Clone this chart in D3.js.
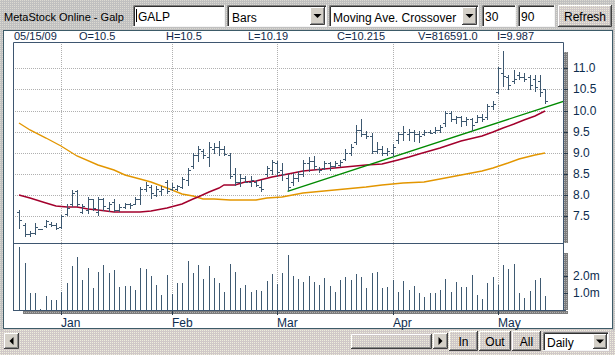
<!DOCTYPE html>
<html>
<head>
<meta charset="utf-8">
<script src="https://cdn.jsdelivr.net/npm/d3@7"></script>
<style>
  body { margin: 0; background: #fff; }
  svg { display: block; }
  text { font-family: "Liberation Sans", Arial, sans-serif; }
</style>
</head>
<body>
<svg id="chart" width="615" height="355"></svg>
<script>
// ---- data (GALP, daily, 18 Dec 2008 - 15 May 2009) ----
var infoDate = "05/15/09";
var infoFields = ["O=10.5", "H=10.5", "L=10.19", "C=10.215", "V=816591.0", "I=9.987"];

var monthLabels = ["Jan", "Feb", "Mar", "Apr", "May"];
var monthStart = [8, 29, 49, 71, 91];   // bar index of first trading day

var priceTicks = [7.5, 8.0, 8.5, 9.0, 9.5, 10.0, 10.5, 11.0];
var volumeTicks = [1, 2];               // millions

var opens = [7.60, 7.30, 7.08, 7.10, 7.20, 7.28, 7.32, 7.30, 7.25, 7.55,
  7.80, 8.10, 7.60, 7.65, 7.90, 7.60, 7.90, 7.70, 7.85, 7.65,
  7.72, 7.78, 7.80, 7.90, 8.15, 8.20, 8.00, 8.10, 8.30, 8.15,
  8.15, 8.20, 8.35, 8.70, 8.95, 9.05, 8.90, 9.10, 9.15, 9.10,
  8.95, 8.50, 8.30, 8.40, 8.30, 8.30, 8.20, 8.50, 8.60, 8.75,
  8.60, 8.40, 8.30, 8.40, 8.50, 8.75, 8.80, 8.62, 8.65, 8.75,
  8.70, 8.72, 8.85, 9.00, 9.25, 9.55, 9.45, 9.40, 9.05, 9.10,
  9.00, 9.00, 9.30, 9.45, 9.45, 9.50, 9.45, 9.45, 9.50, 9.50,
  9.55, 9.70, 9.95, 9.80, 9.85, 9.75, 9.80, 9.72, 9.85, 9.85,
  10.10, 10.45, 10.90, 10.80, 10.70, 10.85, 10.80, 10.80, 10.75, 10.70,
  10.50];
var highs = [7.64, 7.34, 7.15, 7.33, 7.21, 7.41, 7.36, 7.34, 7.52, 7.78,
  8.12, 8.13, 7.79, 7.95, 7.90, 7.96, 7.93, 7.83, 7.90, 7.78,
  7.82, 7.82, 7.96, 8.19, 8.30, 8.25, 8.21, 8.21, 8.37, 8.29,
  8.25, 8.42, 8.64, 9.00, 9.16, 9.09, 9.25, 9.23, 9.27, 9.16,
  9.00, 8.64, 8.50, 8.45, 8.45, 8.35, 8.35, 8.70, 8.83, 8.80,
  8.76, 8.49, 8.53, 8.56, 8.84, 8.90, 8.92, 8.67, 8.80, 8.79,
  8.80, 8.84, 9.08, 9.22, 9.65, 9.80, 9.51, 9.47, 9.26, 9.16,
  9.12, 9.20, 9.49, 9.63, 9.57, 9.53, 9.51, 9.53, 9.55, 9.61,
  9.67, 10.00, 9.98, 9.88, 9.87, 9.85, 9.83, 9.90, 9.93, 10.16,
  10.22, 11.03, 11.40, 10.83, 10.97, 10.91, 10.89, 10.85, 10.85, 10.83,
  10.50];
var lows = [7.22, 7.03, 7.04, 7.07, 7.19, 7.24, 7.26, 7.19, 7.22, 7.52,
  7.74, 7.74, 7.58, 7.58, 7.66, 7.54, 7.66, 7.62, 7.62, 7.62,
  7.70, 7.70, 7.78, 7.80, 8.09, 7.93, 7.97, 8.01, 8.05, 8.13,
  8.13, 8.17, 8.25, 8.64, 8.80, 8.88, 8.70, 9.00, 8.96, 8.94,
  8.41, 8.25, 8.21, 8.30, 8.21, 8.21, 8.09, 8.45, 8.49, 8.46,
  8.37, 8.13, 8.25, 8.33, 8.45, 8.56, 8.62, 8.54, 8.62, 8.60,
  8.67, 8.70, 8.84, 8.94, 9.20, 9.39, 9.35, 9.00, 9.00, 8.96,
  8.96, 8.92, 9.23, 9.30, 9.31, 9.27, 9.25, 9.43, 9.46, 9.46,
  9.49, 9.64, 9.75, 9.71, 9.64, 9.67, 9.55, 9.72, 9.75, 9.80,
  10.04, 10.42, 10.57, 10.50, 10.65, 10.75, 10.69, 10.50, 10.46, 10.34,
  10.19];
var closes = [7.42, 7.09, 7.10, 7.24, 7.20, 7.38, 7.30, 7.22, 7.50, 7.70,
  8.05, 7.80, 7.75, 7.90, 7.70, 7.90, 7.75, 7.80, 7.65, 7.72,
  7.78, 7.76, 7.92, 8.15, 8.25, 8.05, 8.15, 8.15, 8.10, 8.20,
  8.22, 8.38, 8.60, 8.95, 9.10, 8.95, 9.15, 9.15, 9.10, 8.98,
  8.45, 8.30, 8.40, 8.32, 8.35, 8.25, 8.15, 8.65, 8.78, 8.55,
  8.50, 8.20, 8.41, 8.50, 8.75, 8.80, 8.70, 8.60, 8.75, 8.70,
  8.75, 8.78, 9.00, 9.15, 9.55, 9.45, 9.40, 9.05, 9.10, 9.00,
  9.05, 9.15, 9.45, 9.50, 9.50, 9.45, 9.40, 9.50, 9.48, 9.55,
  9.62, 9.95, 9.80, 9.85, 9.75, 9.80, 9.65, 9.85, 9.80, 10.10,
  10.15, 11.00, 10.81, 10.60, 10.75, 10.80, 10.75, 10.60, 10.55, 10.45,
  10.215];
var volumes = [3.73, 2.78, 1.02, 1.02, 0.08, 0.82, 0.59, 0.59, 1.06, 1.61,
  2.59, 3.14, 1.76, 2.47, 1.31, 2.24, 2.67, 2.20, 2.35, 1.37,
  1.41, 1.39, 1.20, 2.47, 2.41, 2.00, 1.49, 0.88, 2.08, 0.96,
  1.61, 1.61, 2.88, 2.20, 2.65, 1.84, 2.59, 1.90, 1.61, 1.08,
  2.73, 2.24, 1.31, 1.49, 1.08, 1.18, 1.14, 1.71, 2.14, 1.53,
  2.20, 3.25, 2.02, 1.84, 1.67, 2.02, 1.67, 1.49, 1.90, 1.43,
  1.08, 1.78, 1.96, 1.78, 2.14, 1.96, 1.31, 2.20, 2.25, 1.31,
  1.37, 1.75, 1.08, 1.73, 1.18, 1.39, 1.02, 0.78, 1.02, 1.02,
  1.20, 1.84, 1.08, 1.67, 1.37, 1.37, 2.08, 0.90, 0.67, 1.57,
  1.96, 1.49, 2.67, 2.43, 2.73, 1.02, 0.71, 1.14, 1.78, 1.90,
  0.82];

// moving averages, [bar index, value]
var ma30 = [[0, 8.00], [2, 7.93], [5, 7.82], [7, 7.75], [9, 7.71], [11, 7.73], [13, 7.68],
  [15, 7.64], [18, 7.60], [23, 7.60], [25, 7.62], [28, 7.70], [31, 7.79], [33, 7.90],
  [34, 7.96], [36, 8.07], [38, 8.17], [39, 8.23], [41, 8.24], [43, 8.30], [45, 8.33],
  [48, 8.43], [51, 8.50], [54, 8.57], [58, 8.62], [62, 8.67], [66, 8.72], [69, 8.74],
  [72, 8.83], [74, 8.90], [76, 8.98], [80, 9.12], [84, 9.28], [88, 9.40], [90, 9.50],
  [92, 9.60], [94, 9.68], [96, 9.78], [98, 9.88], [100, 9.99]];
var ma90 = [[0, 9.70], [2, 9.53], [5, 9.35], [8, 9.16], [11, 8.92], [15, 8.72], [18, 8.60],
  [20, 8.47], [23, 8.38], [25, 8.31], [28, 8.16], [31, 8.03], [33, 7.99], [35, 7.91],
  [37, 7.90], [40, 7.89], [45, 7.89], [47, 7.93], [50, 7.96], [54, 8.05], [58, 8.11],
  [62, 8.15], [66, 8.19], [69, 8.23], [73, 8.29], [77, 8.32], [80, 8.38], [84, 8.47],
  [88, 8.56], [90, 8.64], [93, 8.76], [95, 8.86], [98, 8.94], [100, 9.00]];
// trend line through two points, extended to the right edge
var trendPoints = [[51, 8.09], [100, 10.08]];

// ---- drawing ----
var svg = d3.select("svg#chart");
var W = 615, H = 355;
var plot = {left: 13, right: 563, top: 42, mid: 243, bottom: 310};

var x = d3.scaleLinear().domain([0, closes.length - 1]).range([19.3, 545.3]).interpolate(d3.interpolateRound);
var y = d3.scaleLinear().domain([7.5, 11]).range([216.3, 68.3]).interpolate(d3.interpolateRound);
var yVol = d3.scaleLinear().domain([0, 2]).range([310, 276]).interpolate(d3.interpolateRound);

var defs = svg.append("defs");
function dots(id, base, dot) {
  var p = defs.append("pattern").attr("id", id).attr("width", 2).attr("height", 2)
      .attr("patternUnits", "userSpaceOnUse");
  p.append("rect").attr("width", 2).attr("height", 2).attr("fill", base);
  p.append("rect").attr("width", 1).attr("height", 1).attr("fill", dot);
}
dots("barTop", "#c0c0c0", "#dcdad2");
dots("barBot", "#d0c8c8", "#eeeedc");
dots("btn", "#cfc8c8", "#ecead8");
dots("strip", "#7c7c7c", "#b0b0b0");
defs.append("clipPath").attr("id", "clipPrice").append("rect")
    .attr("x", plot.left).attr("y", plot.top).attr("width", plot.right - plot.left).attr("height", plot.mid - plot.top);

// backgrounds
svg.append("rect").attr("width", W).attr("height", 31).attr("fill", "url(#barTop)");
svg.append("rect").attr("y", 329).attr("width", W).attr("height", H - 329).attr("fill", "url(#barBot)");
svg.append("rect").attr("x", 612).attr("y", 29).attr("width", 3).attr("height", 302).attr("fill", "url(#barTop)");
svg.append("rect").attr("x", 0).attr("y", 29).attr("width", 3).attr("height", 302).attr("fill", "url(#barTop)");
svg.append("rect").attr("x", 3.5).attr("y", 30.5).attr("width", 609).attr("height", 298)
    .attr("fill", "#fff").attr("stroke", "#3d5b68");

// ---- widgets ----
function sunken(x0, y0, w, h) {
  svg.append("rect").attr("x", x0).attr("y", y0).attr("width", w).attr("height", h).attr("fill", "#fff");
  svg.append("path").attr("fill", "none").attr("stroke", "#808080")
      .attr("d", "M" + (x0 + .5) + "," + (y0 + h) + "V" + (y0 + .5) + "H" + (x0 + w));
  svg.append("path").attr("fill", "none").attr("stroke", "#303030")
      .attr("d", "M" + (x0 + 1.5) + "," + (y0 + h - 1) + "V" + (y0 + 1.5) + "H" + (x0 + w - 1));
  svg.append("path").attr("fill", "none").attr("stroke", "#f4f4f4")
      .attr("d", "M" + x0 + "," + (y0 + h - .5) + "H" + (x0 + w - .5) + "V" + y0);
}
function raised(x0, y0, w, h, fill) {
  svg.append("rect").attr("x", x0).attr("y", y0).attr("width", w).attr("height", h).attr("fill", fill || "url(#btn)");
  svg.append("path").attr("fill", "none").attr("stroke", "#ffffff")
      .attr("d", "M" + (x0 + .5) + "," + (y0 + h - 1) + "V" + (y0 + .5) + "H" + (x0 + w - 1));
  svg.append("path").attr("fill", "none").attr("stroke", "#404040")
      .attr("d", "M" + x0 + "," + (y0 + h - .5) + "H" + (x0 + w - .5) + "V" + y0);
  svg.append("path").attr("fill", "none").attr("stroke", "#888")
      .attr("d", "M" + (x0 + 1) + "," + (y0 + h - 1.5) + "H" + (x0 + w - 1.5) + "V" + (y0 + 1));
}
function label(tx, ty, s, anchor, size) {
  svg.append("text").attr("x", tx).attr("y", ty).attr("text-anchor", anchor || "start")
      .style("font-size", (size || 12) + "px").attr("fill", "#000").text(s);
}
function arrowBtn(x0, y0, w, h, dir) {
  raised(x0, y0, w, h, "#d4d0c8");
  var cx = x0 + w / 2, cy = y0 + h / 2, d;
  if (dir == "down") d = "M" + (cx - 4) + "," + (cy - 2) + "h8l-4,4z";
  else if (dir == "left") d = "M" + (cx + 2) + "," + (cy - 4) + "v8l-4,-4z";
  else d = "M" + (cx - 2) + "," + (cy - 4) + "v8l4,-4z";
  svg.append("path").attr("d", d).attr("fill", "#000");
}

label(4, 21, "MetaStock Online - Galp", "start", 11);
sunken(133, 5, 92, 22);
svg.append("line").attr("x1", 136.5).attr("x2", 136.5).attr("y1", 9).attr("y2", 22).attr("stroke", "#000");
label(138, 21, "GALP");
sunken(227, 5, 100, 22);
label(232, 22, "Bars");
arrowBtn(310, 7, 15, 18, "down");
sunken(329, 5, 150, 22);
label(333, 22, "Moving Ave. Crossover");
arrowBtn(462, 7, 15, 18, "down");
sunken(482, 5, 34, 22);
label(485, 21, "30");
sunken(518, 5, 37, 22);
label(521, 21, "90");
raised(558, 5, 54, 22);
label(585, 21, "Refresh", "middle");

// info line
var info = svg.append("g").style("font-family", "'Liberation Serif', serif").style("font-size", "11px")
    .attr("fill", "#102848");
info.append("text").attr("x", 14).attr("y", 40).text(infoDate);
info.selectAll("text.f").data(infoFields).enter().append("text").attr("class", "f")
    .attr("x", function(d, i) { return [79, 166, 248, 337, 418, 497][i]; })
    .attr("y", 40).text(function(d) { return d; });

// bottom bar
arrowBtn(4, 333, 15, 16, "left");
raised(351, 334, 81, 15);
arrowBtn(433, 333, 15, 16, "right");
raised(449, 331, 29, 20); label(463.5, 346, "In", "middle");
raised(479, 331, 32, 20); label(495, 346, "Out", "middle");
raised(512, 331, 29, 20); label(526.5, 346, "All", "middle");
sunken(543, 332, 66, 19);
label(547, 347, "Daily");
arrowBtn(593, 334, 14, 15, "down");

// ---- chart ----
var g = svg.append("g");

// grid
g.selectAll("line.hgrid").data(priceTicks).enter().append("line")
    .attr("x1", plot.left).attr("x2", plot.right)
    .attr("y1", function(d) { return y(d) + .5; }).attr("y2", function(d) { return y(d) + .5; })
    .attr("stroke", "#b0b0b0").attr("stroke-dasharray", "1,1");
g.selectAll("line.vgrid").data(monthStart).enter().append("line")
    .attr("x1", function(d) { return x(d) + .5; }).attr("x2", function(d) { return x(d) + .5; })
    .attr("y1", plot.top).attr("y2", plot.bottom)
    .attr("stroke", "#b0b0b0").attr("stroke-dasharray", "1,1");

// right and bottom gray strips
g.append("rect").attr("x", 564).attr("y", 52).attr("width", 4).attr("height", plot.mid - 52).attr("fill", "url(#strip)");
g.append("rect").attr("x", 564).attr("y", 253).attr("width", 4).attr("height", plot.bottom - 253).attr("fill", "url(#strip)");
g.append("rect").attr("x", 23).attr("y", plot.bottom + 1).attr("width", 545).attr("height", 3).attr("fill", "url(#strip)");

// frame
g.append("path").attr("fill", "none").attr("stroke", "#3e5670")
    .attr("d", "M" + (plot.left + .5) + "," + (plot.bottom + .5) + "V" + (plot.top + .5) + "H" + (plot.right + .5) + "V" + (plot.bottom + .5));
g.append("line").attr("x1", plot.left).attr("x2", plot.right + 1).attr("y1", plot.mid + .5).attr("y2", plot.mid + .5).attr("stroke", "#3e5670");
g.append("line").attr("x1", plot.left).attr("x2", plot.right + 3).attr("y1", plot.bottom + .5).attr("y2", plot.bottom + .5).attr("stroke", "#3e5670");

// moving averages and trend line
var line = d3.line().x(function(d) { return x(d[0]); }).y(function(d) { return y(d[1]); });
var lines = g.append("g").attr("clip-path", "url(#clipPrice)").attr("fill", "none").attr("stroke-width", 1.4);
lines.append("path").datum(ma90).attr("d", line).attr("stroke", "#e39600");
lines.append("path").datum(ma30).attr("d", line).attr("stroke", "#a3002c");
var slope = (trendPoints[1][1] - trendPoints[0][1]) / (trendPoints[1][0] - trendPoints[0][0]);
var edgeIdx = x.invert(plot.right + 1);
lines.append("path")
    .datum([trendPoints[0], [edgeIdx, trendPoints[0][1] + slope * (edgeIdx - trendPoints[0][0])]])
    .attr("d", d3.line().x(function(d) { return x.copy().interpolate(d3.interpolateNumber)(d[0]); }).y(function(d) { return y.copy().interpolate(d3.interpolateNumber)(d[1]); }))
    .attr("stroke", "#008a00");

// OHLC bars
var bars = g.append("g").attr("stroke", "#3d5870").attr("shape-rendering", "crispEdges");
bars.selectAll("path").data(closes).enter().append("path")
    .attr("d", function(d, i) {
      var xi = x(i) + .5;
      return "M" + xi + "," + y(highs[i]) + "V" + (y(lows[i]) + 1) +
             "M" + (xi - 2.5) + "," + (y(opens[i]) + .5) + "H" + xi +
             "M" + xi + "," + (y(closes[i]) + .5) + "H" + (xi + 2.5);
    });

// volume
g.append("g").attr("stroke", "#3f5a72").attr("shape-rendering", "crispEdges")
  .selectAll("line").data(volumes).enter().append("line")
    .attr("x1", function(d, i) { return x(i) + .5; }).attr("x2", function(d, i) { return x(i) + .5; })
    .attr("y1", yVol(0)).attr("y2", function(d) { return yVol(d); });

// axes
function styleAxis(sel) {
  sel.select(".domain").remove();
  sel.selectAll(".tick line").attr("stroke", "#2a3a4a");
  sel.selectAll(".tick text").attr("fill", "#0c2c4e")
      .style("font-family", "'Liberation Sans', Arial, sans-serif").style("font-size", "12px");
}
g.append("g").attr("transform", "translate(564,0)")
    .call(d3.axisRight(y).tickValues(priceTicks).tickSize(4).tickPadding(5).tickFormat(d3.format(".1f")))
    .call(styleAxis);
g.append("g").attr("transform", "translate(564,0)")
    .call(d3.axisRight(yVol).tickValues(volumeTicks).tickSize(4).tickPadding(5)
      .tickFormat(function(d) { return d3.format(".1f")(d) + "m"; }))
    .call(styleAxis);
var mAxis = g.append("g").attr("transform", "translate(0," + (plot.bottom + 1) + ")")
    .call(d3.axisBottom(x).tickValues(monthStart).tickSize(4).tickPadding(3)
      .tickFormat(function(d, i) { return monthLabels[i]; }))
    .call(styleAxis);
mAxis.selectAll(".tick text").attr("text-anchor", "start").attr("x", -0.5);
</script>
</body>
</html>
